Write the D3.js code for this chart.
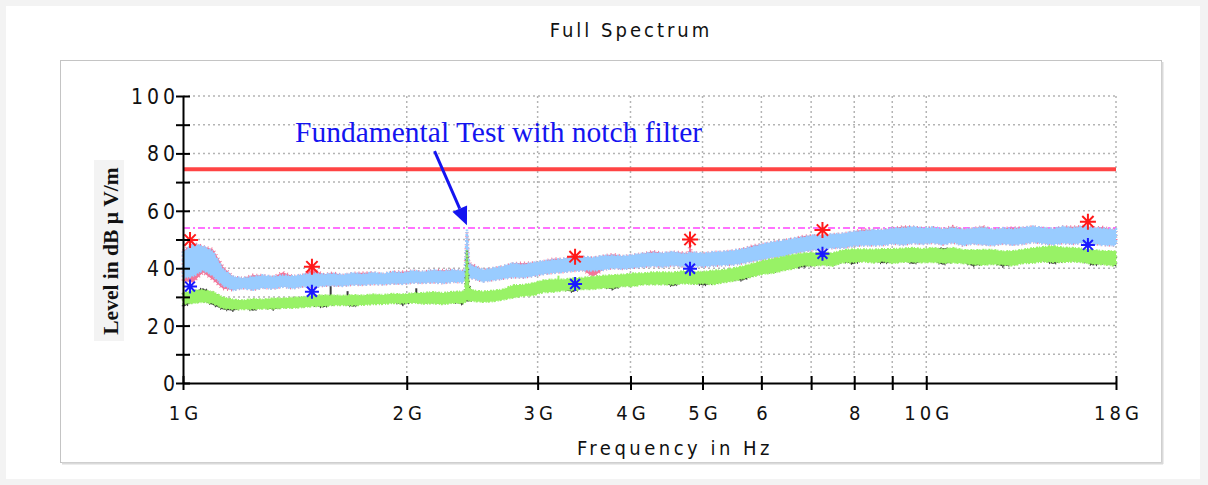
<!DOCTYPE html>
<html>
<head>
<meta charset="utf-8">
<script src="https://cdn.jsdelivr.net/npm/d3@7"></script>
<style>
  body { margin: 0; background: #f3f3f3; }
  svg { display: block; }
</style>
</head>
<body>
<div id="chart"></div>
<script>
// frequency grid in GHz
var freq = [1.000,1.031,1.064,1.097,1.132,1.168,1.204,1.242,1.281,1.322,
  1.363,1.406,1.450,1.496,1.543,1.591,1.641,1.693,1.746,1.801,
  1.858,1.916,1.977,2.039,2.103,2.169,2.238,2.308,2.381,
  2.395,2.41,2.425,
  2.456,2.533,2.613,2.695,2.780,2.867,2.958,3.051,3.147,3.246,
  3.348,3.453,3.562,3.674,3.790,3.909,4.032,4.159,4.290,4.425,
  4.564,4.708,
  4.79,4.81,4.83,
  4.856,5.009,5.164,5.327,5.495,5.667,5.846,6.030,6.220,6.415,
  6.617,6.826,7.040,7.262,7.491,7.727,7.970,8.221,8.480,8.747,
  9.022,9.303,9.596,9.897,10.21,10.53,10.86,11.20,11.56,11.92,
  12.29,12.68,13.08,13.49,13.92,14.35,14.81,15.27,15.75,16.25,
  16.76,17.29,17.83,18.0];

// peak trace (pink) band
var pinkLo = [35.5,35,38.5,36,32.8,32.4,33.1,32.5,33.2,32.9,
  33.6,33,33.7,33.4,33.9,34,33.9,34.3,34.2,34.5,
  34.4,34.7,34.6,35,34.9,35.1,34.8,35.3,35.1,
  35.6,36.5,36.6,
  36.5,35.4,35.9,36.4,36.9,36.8,37.3,38,38.4,38.7,
  39.1,39.3,37,39.5,40.1,39.8,40.2,40.5,40.8,40.5,
  41,40.6,
  40.8,41.1,40.8,
  40.9,40.6,40.9,41.1,41.3,41.8,42.5,43.1,43.8,44.1,
  45.2,45.8,46.4,46.7,47.1,47.1,47.8,48,48,48.1,
  48.6,48.2,48.8,48.5,48.9,48.3,49,48,48.6,48.3,
  48,48.6,48.2,48.5,49.1,48.7,48.3,48.8,48.5,48.9,
  48.6,48.1,48,48.2];
var pinkHi = [46,48.8,47.6,46.6,40.5,37,36.5,37.6,37.5,37,
  38.6,37.2,37.7,39.8,37.8,38.4,37.6,38.3,38.4,38.5,
  38,38.7,38.8,39.1,38.7,39.3,39.3,39.4,39,
  39.4,53,41.8,
  41.2,39.4,40,40.6,41.7,41.8,41.9,42.4,43.3,43.2,
  44.2,43.9,43.6,44.3,44.9,44.2,44.6,45.1,45.9,45.2,
  45.7,45.4,
  45.2,49.5,45.3,
  45.5,45.1,45.6,45.7,46.1,46.7,47.9,48.4,49.1,49.6,
  50.3,51.2,51.4,51.4,51.8,52,52.7,53.5,53.3,53.3,
  53.9,54.5,54.4,53.9,54.2,53.6,54.6,53.4,53.8,54.6,
  53.4,53.9,54.1,54.1,54.5,54,53.7,54.4,54.4,54.6,
  54.1,54.3,53.4,53.6];

// light blue trace band
var blueLo = [36.5,37.2,39.4,37.4,34,32.4,33.1,32.5,33.2,32.9,
  33.6,33,33.7,33.4,33.9,34,33.9,34.3,34.2,34.5,
  34.4,34.7,34.6,35,34.9,35.1,34.8,35.3,35.1,
  35.6,36.5,36.6,
  36.5,35.4,35.9,36.4,36.9,36.8,37.3,38,38.4,38.7,
  39.1,39.3,39.2,39.5,40.1,39.8,40.2,40.5,40.8,40.5,
  41,40.6,
  40.8,41.1,40.8,
  40.9,40.6,40.9,41.1,41.3,41.8,42.5,43.1,43.8,44.1,
  45.2,45.8,46.4,46.7,47.1,47.1,47.8,48,48,48.1,
  48.6,48.2,48.8,48.5,48.9,48.3,49,48,48.6,48.3,
  48,48.6,48.2,48.5,49.1,48.7,48.3,48.8,48.5,48.9,
  48.6,48.1,48,48.2];
var blueHi = [45.5,48.4,47.6,45.8,39.6,37,36.5,37,37.5,37,
  37.5,37.2,37.7,38.2,37.8,38.1,37.6,38.3,37.9,38.5,
  38,38.7,38.3,39.1,38.7,39.3,38.9,39.4,39,
  39.4,53.5,41.4,
  40.8,39.4,40,40.6,41.7,41.2,41.9,42.4,42.9,43.2,
  43.7,43.9,43.6,44.3,44.4,44.2,44.6,45.1,45.4,45.2,
  45.7,45,
  45.2,45.6,45.3,
  45.5,45.1,45.6,45.7,46.1,46.7,47.5,48.4,49.1,49.6,
  50.3,50.8,51.4,51.4,51.8,52,52.7,53,53.3,53.3,
  53.9,54,54.4,53.9,54.2,53.6,54.1,53.4,53.8,54.2,
  53.4,53.9,53.6,54.1,54.5,54,53.7,54.4,53.9,54.6,
  54.1,53.8,53.4,53.6];

// average trace (black) band
var blackLo = [26.5,28.2,28.6,27.2,25.6,25.2,26.2,25.2,26.3,25.6,
  26.5,26.5,26.8,27.1,26.3,27.5,27.5,26.6,27.6,27.8,
  27.9,28.2,27.2,28.4,28,28.1,27.8,28.3,27.3,
  28.6,28.4,28.4,
  28.9,28.6,28.8,29.4,30.1,30.7,30.9,32,32.1,32.6,
  31.7,33.1,33.1,33.5,32.5,34.1,34.1,34.7,34.7,34.7,
  33.7,35.1,
  35,35.1,34.9,
  34.8,34,34.7,35.4,35.9,35.7,37.5,38.4,38.7,39.6,
  40.2,40.3,41.2,41.5,41.2,42.4,41.4,42.7,42.3,41.7,
  42.1,42.6,41.5,42.4,42.5,41.2,42.3,42.1,40.7,41.5,
  41.8,40.6,41.3,42.1,42.2,42.7,41.5,42.5,42.7,42.4,
  40.9,41.7,41.3,40.6];
var blackHi = [31,31.8,33,31.3,29.4,28.6,28.3,28.8,28.6,29,
  29,29.3,29.5,30,30.1,30.1,29.9,30.2,30,30.4,
  30.2,30.6,30.4,30.8,30.9,31.2,30.9,31.3,31.4,
  31.9,46.5,33.8,
  31.8,31.4,31.7,32.1,33.6,33.7,34.3,35.3,35.6,35.6,
  36,36.2,36.6,36.9,37.1,37.3,37.7,37.7,38.1,38.1,
  38,38.5,
  38.4,38.7,38.3,
  38.3,38.3,38.7,38.9,39.5,40.2,41.1,42.1,42.8,43.5,
  44.2,44.7,44.9,45.8,44.8,45.8,46.1,46.1,46,46.2,
  46.2,46.4,46.6,46.2,46.6,47,46.6,45.9,45.8,45.9,
  45.9,45.4,45.5,46,46.5,46.9,47.2,46.7,46.6,46.3,
  45.9,45.5,45.5,45.3];

// green trace band
var greenLo = [27.6,27.8,28.2,27.7,26,25.7,25.7,25.7,25.9,25.9,
  26.1,26.1,26.4,26.7,26.7,27.1,27.1,27,27.2,27.4,
  27.5,27.8,27.7,28,27.6,27.7,27.4,27.9,27.8,
  28.2,28.8,28.7,
  28.5,28.2,28.4,29,29.7,30.3,30.5,31.6,31.7,32.2,
  32.3,32.7,32.7,33.1,33.1,33.7,33.7,34.3,34.3,34.3,
  34.3,34.7,
  34.6,34.7,34.5,
  34.4,34.7,34.3,35,35.5,36.3,37.1,38,38.3,39.2,
  39.8,40.9,40.8,41.1,40.8,42,42,42.3,41.9,42.3,
  41.7,42.2,42.1,42,42.1,41.8,41.9,41.7,41.3,41.1,
  41.4,41.2,40.9,41.7,41.8,42.3,42.1,42.1,42.3,42,
  41.5,41.3,40.9,41.2];
var greenHi = [31.4,32.3,32.4,31.8,29.9,29.1,28.8,29.3,29.1,29.5,
  29.5,29.8,30,30.5,30.6,30.6,30.4,30.7,30.5,30.9,
  30.7,31.1,30.9,31.3,31.4,31.7,31.4,31.8,31.9,
  32.4,46.2,33.4,
  32.3,31.9,32.2,32.6,34.1,34.2,34.8,35.8,36.1,36.1,
  36.5,36.7,37.1,37.4,37.6,37.8,38.2,38.2,38.6,38.6,
  38.5,39,
  38.9,39.2,38.8,
  38.8,38.8,39.2,39.4,40,40.7,41.6,42.6,43.3,44,
  44.7,45.2,45.4,45.4,45.3,46.3,46.6,46.6,46.5,46.7,
  46.7,46.9,47.1,46.7,47.1,46.6,47.1,46.4,46.3,46.4,
  46.4,45.9,46,46.5,47,47.4,47.7,47.2,47.1,46.8,
  46.4,46,46,45.8];

// narrow spikes on the average trace
var spikeFreq = [1.58, 1.665, 2.06, 3.2];
var spikeBase = [30.3, 30.5, 31.0, 35.8];
var spikeLevel = [33.7, 32.0, 33.0, 37.4];

// markers
var peakFreq = [1.022, 1.491, 3.369, 4.81, 7.25, 16.5];
var peakLevel = [49.8, 40.5, 44.0, 50.0, 53.3, 56.2];
var avgFreq = [1.022, 1.491, 3.369, 4.81, 7.25, 16.5];
var avgLevel = [33.6, 31.8, 34.5, 39.8, 45.0, 48.1];

// limit lines
var peakLimit = 74.5;
var avgLimit = 54;

// axes
var xTicks = [1, 2, 3, 4, 5, 6, 7, 8, 9, 10, 18];
var xTickLabels = ["1G", "2G", "3G", "4G", "5G", "6", "", "8", "", "10G", "18G"];
var yTicks = [0, 10, 20, 30, 40, 50, 60, 70, 80, 90, 100];
var yTickLabels = ["0", "", "20", "", "40", "", "60", "", "80", "", "100"];

var W = 1208, H = 485;
var plotLeft = 183, plotRight = 1116, plotTop = 96, plotBottom = 383;
var narrow = "'Liberation Sans Narrow', 'DejaVu Sans Condensed', 'Arial Narrow', sans-serif";

var svg = d3.select("#chart").append("svg")
    .attr("width", W)
    .attr("height", H);

// page panel and chart frame
svg.append("rect").attr("x", 6).attr("y", 6).attr("width", 1194).attr("height", 473).attr("fill", "#fff");
svg.append("rect").attr("x", 60.5).attr("y", 60.5).attr("width", 1101).attr("height", 402)
    .attr("fill", "#fff").attr("stroke", "#c4c4c4").attr("stroke-width", 1);
svg.append("line").attr("x1", 62).attr("x2", 1163).attr("y1", 463.5).attr("y2", 463.5)
    .attr("stroke", "#dadada").attr("stroke-width", 2);
svg.append("line").attr("x1", 1162.5).attr("x2", 1162.5).attr("y1", 62).attr("y2", 464)
    .attr("stroke", "#dadada").attr("stroke-width", 2);

var x = d3.scaleLog().domain([1, 18]).range([plotLeft, plotRight]);
var y = d3.scaleLinear().domain([0, 100]).range([plotBottom, plotTop]);

// title
svg.append("text")
    .attr("x", 631).attr("y", 37)
    .attr("text-anchor", "middle")
    .style("font-family", narrow).style("font-size", "20px")
    .style("letter-spacing", "3px").attr("fill", "#111")
    .text("Full Spectrum");

// grid
var grid = svg.append("g")
    .attr("stroke", "#b4b4b4")
    .attr("stroke-width", 1.5)
    .attr("stroke-dasharray", "2,3");
grid.selectAll(".hgrid")
    .data(yTicks.filter(function (d) { return d > 0; }))
    .enter().append("line")
    .attr("x1", plotLeft).attr("x2", plotRight)
    .attr("y1", function (d) { return y(d); })
    .attr("y2", function (d) { return y(d); });
grid.selectAll(".vgrid")
    .data(xTicks.filter(function (d) { return d > 1; }))
    .enter().append("line")
    .attr("x1", function (d) { return x(d); })
    .attr("x2", function (d) { return x(d); })
    .attr("y1", plotTop).attr("y2", plotBottom);

// limit lines
svg.append("line")
    .attr("x1", plotLeft).attr("x2", plotRight)
    .attr("y1", y(avgLimit)).attr("y2", y(avgLimit))
    .attr("stroke", "#ff44ff").attr("stroke-width", 1.5)
    .attr("stroke-dasharray", "7,3,2,3");
svg.append("line")
    .attr("x1", plotLeft).attr("x2", plotRight)
    .attr("y1", y(peakLimit)).attr("y2", y(peakLimit))
    .attr("stroke", "#ff4444").attr("stroke-width", 4);

// traces (a dotted outline gives the noisy edge of the measured bands)
function band(lo, hi) {
    return d3.area()
        .x(function (d, i) { return x(freq[i]); })
        .y0(function (d, i) { return y(lo[i]); })
        .y1(function (d, i) { return y(hi[i]); })(freq);
}
var traces = svg.append("g");
traces.append("path").attr("d", band(pinkLo, pinkHi)).attr("fill", "#f2769a")
    .attr("stroke", "#f2769a").attr("stroke-width", 3).attr("stroke-dasharray", "1,3");
traces.append("path").attr("d", band(blueLo, blueHi)).attr("fill", "#99ccff")
    .attr("stroke", "#99ccff").attr("stroke-width", 2.5).attr("stroke-dasharray", "2,1,1,2");
traces.append("path").attr("d", band(blackLo, blackHi)).attr("fill", "#3a3a3a")
    .attr("stroke", "#3a3a3a").attr("stroke-width", 2.5).attr("stroke-dasharray", "1,5");
traces.selectAll(".spike")
    .data(spikeFreq)
    .enter().append("line")
    .attr("x1", function (d) { return x(d); })
    .attr("x2", function (d) { return x(d); })
    .attr("y1", function (d, i) { return y(spikeBase[i]); })
    .attr("y2", function (d, i) { return y(spikeLevel[i]); })
    .attr("stroke", function (d, i) { return i === 3 ? "#98f266" : "#3a3a3a"; })
    .attr("stroke-width", 2);
traces.append("path").attr("d", band(greenLo, greenHi)).attr("fill", "#98f266")
    .attr("stroke", "#98f266").attr("stroke-width", 2).attr("stroke-dasharray", "2,1,1,2");

// star markers
function star(r) {
    var p = "";
    [0, 45, 90, 135].forEach(function (a) {
        var t = a * Math.PI / 180;
        p += "M" + (-r * Math.cos(t)) + "," + (-r * Math.sin(t)) +
             "L" + (r * Math.cos(t)) + "," + (r * Math.sin(t));
    });
    return p;
}
svg.selectAll(".peakmark")
    .data(peakFreq)
    .enter().append("path")
    .attr("transform", function (d, i) { return "translate(" + x(d) + "," + y(peakLevel[i]) + ")"; })
    .attr("d", star(8))
    .attr("stroke", "#ff1a1a").attr("stroke-width", 2);
svg.selectAll(".avgmark")
    .data(avgFreq)
    .enter().append("path")
    .attr("transform", function (d, i) { return "translate(" + x(d) + "," + y(avgLevel[i]) + ")"; })
    .attr("d", star(7))
    .attr("stroke", "#1a1aff").attr("stroke-width", 2);

// x axis
var xAxis = svg.append("g")
    .attr("transform", "translate(0," + plotBottom + ")")
    .call(d3.axisBottom(x)
        .tickValues(xTicks)
        .tickFormat(function (d, i) { return xTickLabels[i]; })
        .tickSizeOuter(0));
xAxis.select(".domain").attr("stroke", "#000").attr("stroke-width", 2);
xAxis.selectAll(".tick line").attr("y1", -7).attr("y2", 7).attr("stroke", "#000").attr("stroke-width", 2);
xAxis.selectAll(".tick text")
    .attr("y", 37).attr("dy", 0).attr("dx", 2)
    .style("font-family", narrow).style("font-size", "20px")
    .style("letter-spacing", "4px").attr("fill", "#111");

// y axis
var yAxis = svg.append("g")
    .attr("transform", "translate(" + plotLeft + ",0)")
    .call(d3.axisLeft(y)
        .tickValues(yTicks)
        .tickFormat(function (d, i) { return yTickLabels[i]; })
        .tickSizeOuter(0));
yAxis.select(".domain").attr("stroke", "#000").attr("stroke-width", 2);
yAxis.selectAll(".tick line").attr("x1", -7).attr("x2", 7).attr("stroke", "#000").attr("stroke-width", 2);
yAxis.selectAll(".tick text")
    .attr("x", -4).attr("dy", "0.36em")
    .style("font-family", narrow).style("font-size", "21px")
    .style("letter-spacing", "4px").attr("fill", "#111");

// axis titles
svg.append("text")
    .attr("x", 675).attr("y", 455)
    .attr("text-anchor", "middle")
    .style("font-family", narrow).style("font-size", "20px")
    .style("letter-spacing", "3.5px").attr("fill", "#111")
    .text("Frequency in Hz");

svg.append("rect").attr("x", 94).attr("y", 160).attr("width", 30).attr("height", 181).attr("fill", "#f3f3f3");
svg.append("text")
    .attr("transform", "translate(118,251) rotate(-90)")
    .attr("text-anchor", "middle")
    .style("font-family", "'Liberation Serif', 'Times New Roman', serif")
    .style("font-size", "21.5px").style("font-weight", "bold").attr("fill", "#111")
    .text("Level in dB \u03bc V/m");

// annotation
var note = { text: "Fundamental Test with notch filter", f: 1.415, level: 84.1,
             fromF: 2.18, fromLevel: 80.8, toF: 2.41, toLevel: 55 };
svg.append("text")
    .attr("x", x(note.f)).attr("y", y(note.level))
    .style("font-family", "'Liberation Serif', 'Times New Roman', serif")
    .style("font-size", "29.5px").attr("fill", "#1414f0")
    .text(note.text);

var x0 = x(note.fromF), y0 = y(note.fromLevel), x1 = x(note.toF), y1 = y(note.toLevel);
var len = Math.sqrt((x1 - x0) * (x1 - x0) + (y1 - y0) * (y1 - y0));
var ux = (x1 - x0) / len, uy = (y1 - y0) / len;
var bx = x1 - ux * 18, by = y1 - uy * 18;
svg.append("line")
    .attr("x1", x0).attr("y1", y0).attr("x2", bx).attr("y2", by)
    .attr("stroke", "#1414f0").attr("stroke-width", 3);
svg.append("path")
    .attr("d", "M" + x1 + "," + y1 +
               "L" + (bx - uy * 8) + "," + (by + ux * 8) +
               "L" + (bx + uy * 8) + "," + (by - ux * 8) + "Z")
    .attr("fill", "#1414f0");
</script>
</body>
</html>
